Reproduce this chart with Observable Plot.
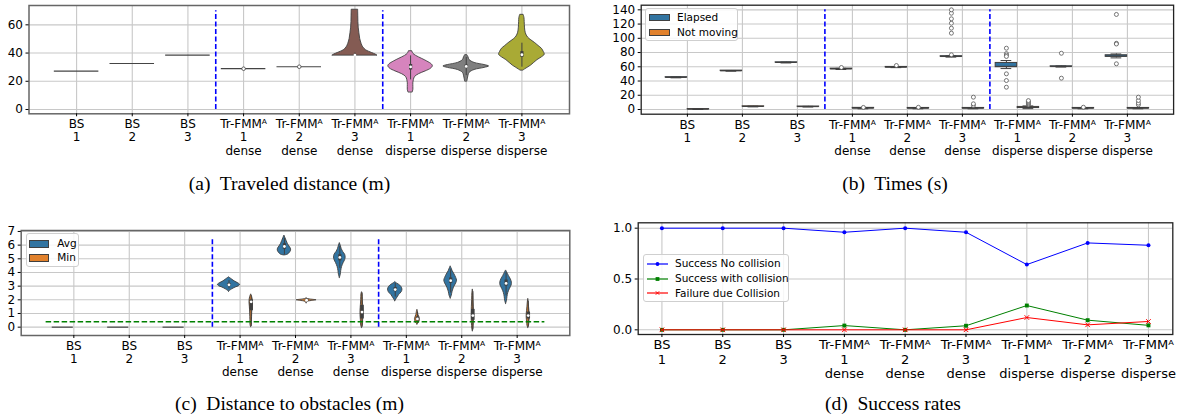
<!DOCTYPE html>
<html>
<head>
<meta charset="utf-8">
<script src="https://cdn.jsdelivr.net/npm/d3@7"></script>
<script src="https://cdn.jsdelivr.net/npm/@observablehq/plot@0.6"></script>
<style>
 html,body{margin:0;padding:0;background:#fff;}
 #fig{position:relative;width:1183px;height:419px;overflow:hidden;background:#fff;font-family:"DejaVu Sans",sans-serif;color:#000;}
 .panel{position:absolute;}
 .panel svg{display:block;overflow:visible;}
 .cap{position:absolute;font-family:"Liberation Serif","Times New Roman",serif;font-size:19.5px;line-height:1;white-space:pre;transform:translateX(-50%);}
 .leg{position:absolute;box-sizing:border-box;background:rgba(255,255,255,0.85);border:1px solid #cfcfcf;border-radius:3px;font-size:10.5px;}
 .leg .it{position:absolute;white-space:nowrap;line-height:12px;}
 .leg .pt{position:absolute;box-sizing:border-box;border:0.8px solid #3f3f3f;}
</style>
</head>
<body>
<div id="fig"></div>
<script>
// ---------- shared categories ----------
const categories = ["BS\n1","BS\n2","BS\n3",
  "Tr-FMMᴬ\n1\ndense","Tr-FMMᴬ\n2\ndense","Tr-FMMᴬ\n3\ndense",
  "Tr-FMMᴬ\n1\ndisperse","Tr-FMMᴬ\n2\ndisperse","Tr-FMMᴬ\n3\ndisperse"];
const groupDividers = [2.5, 5.5];
const captions = ["(a)  Traveled distance (m)", "(b)  Times (s)", "(c)  Distance to obstacles (m)", "(d)  Success rates"];

// ---------- (a) traveled distance ----------
const distTicks = [0, 20, 40, 60];
const distPalette = ["#3274a1","#e1812c","#3a923a","#c03d3e","#9372b2","#845b53","#d684bd","#7f7f7f","#a9aa35"];
// near-degenerate violins drawn as a single line: [category, value, hasMedianDot]
const distFlat = [[0, 27.2, false], [1, 32.6, false], [2, 38.5, false], [3, 28.9, true], [4, 30.3, true]];
// violin profiles [value, half width in category units]; box = [lo, q1, median, q3, hi]
const distViolins = [
  {i: 5, profile: [[38.3,0.40],[39,0.37],[40,0.31],[41,0.25],[42,0.20],[44,0.15],[46.5,0.12],[50,0.095],[54,0.08],[58,0.068],[62,0.062],[66,0.06],[70.7,0.058]], box: [38.3,38.4,38.6,39.0,40.0]},
  {i: 6, profile: [[12.3,0.04],[14,0.05],[16,0.05],[19,0.05],[21,0.06],[23,0.08],[25,0.15],[27,0.27],[29,0.37],[30.7,0.40],[32,0.38],[34,0.30],[36,0.20],[38,0.10],[39.5,0.05],[41.3,0.03]], box: [21,28,30.2,31.9,38]},
  {i: 7, profile: [[20.0,0.02],[22,0.03],[24,0.04],[26,0.06],[28,0.15],[29.5,0.33],[30.5,0.41],[31.5,0.33],[33,0.15],[35,0.06],[37,0.04],[38.5,0.02]], box: [24,29.5,30.5,31.5,37]},
  {i: 8, profile: [[27.7,0.03],[28.5,0.06],[29.5,0.10],[31,0.16],[33,0.22],[35,0.28],[37,0.36],[38.8,0.41],[41,0.39],[43,0.36],[45,0.30],[47,0.24],[49,0.17],[51,0.11],[54,0.07],[58,0.055],[62,0.05],[65,0.045],[67.1,0.03]], box: [30,37,38.8,41,47]}
];

// ---------- (b) times ----------
const timeTicks = [0, 20, 40, 60, 80, 100, 120, 140];
const timeSeries = ["Elapsed", "Not moving"];
// [lo, q1, median, q3, hi] per category
const elapsedStats = [
  [44.5,44.8,45.1,45.4,45.7],[53.8,54.0,54.3,54.6,54.8],[65.4,65.7,66.0,66.3,66.6],
  [56.2,56.6,57.0,57.4,57.8],[58.8,59.1,59.4,59.8,60.1],[73.6,74.0,74.4,74.9,75.4],
  [57.5,59.4,60.6,65.4,68.8],[59.6,60.0,60.3,60.7,61.2],[72.5,74.0,75.0,76.2,78.0]];
const elapsedOutliers = [[],[],[],[59],[61.8],[76.8,107.2,114.2,121.2,127.4,135.2,140],
  [86.1,78.5,76.5,74.5,50.1,40.7,31.3],[79,44],[133.5,93,92,64.2]];
const notMovingStats = [
  [0,0.2,0.4,0.6,0.8],[3.7,3.9,4.2,4.5,4.7],[3.5,3.7,4.0,4.2,4.4],
  [1.0,1.5,1.9,2.3,2.6],[1.0,1.4,1.8,2.2,2.6],[1.0,1.4,1.8,2.2,2.8],
  [1.2,2.0,2.8,3.6,5.0],[1.0,1.4,1.8,2.2,2.6],[1.0,1.4,1.8,2.2,2.8]];
const notMovingOutliers = [[],[],[],[2.9],[3.1],[5.6,8,17.3],[6.5,8,9.5,11,12.5],[3.2],[6.6,9,12.6,17.3]];

// ---------- (c) distance to obstacles ----------
const obsTicks = [0,1,2,3,4,5,6,7];
const obsSeries = ["Avg", "Min"];
const safetyThreshold = 0.4;
const avgZero = [[0, 0], [1, 0], [2, 0]];
const avgViolins = [
  {i: 3, profile: [[2.6,0],[2.75,0.05],[2.9,0.12],[3.0,0.18],[3.1,0.2],[3.2,0.17],[3.35,0.1],[3.5,0.05],[3.65,0]], box: [2.8,3.0,3.1,3.2,3.4]},
  {i: 4, profile: [[5.25,0.01],[5.3,0.06],[5.45,0.1],[5.6,0.12],[5.75,0.115],[5.9,0.09],[6.1,0.06],[6.3,0.04],[6.5,0.02],[6.7,0]], box: [5.3,5.7,5.9,6.1,6.5]},
  {i: 5, profile: [[3.6,0],[3.8,0.015],[4.1,0.025],[4.4,0.04],[4.7,0.07],[4.9,0.095],[5.1,0.105],[5.3,0.095],[5.5,0.06],[5.7,0.035],[5.9,0.02],[6.15,0]], box: [4.3,4.85,5.1,5.3,5.9]},
  {i: 6, profile: [[1.9,0],[2.1,0.03],[2.35,0.07],[2.55,0.115],[2.75,0.13],[2.95,0.11],[3.1,0.07],[3.2,0.03],[3.3,0]], box: [2.2,2.6,2.75,2.9,3.2]},
  {i: 7, profile: [[2.1,0],[2.3,0.02],[2.6,0.035],[2.9,0.06],[3.2,0.1],[3.4,0.115],[3.6,0.1],[3.85,0.07],[4.1,0.035],[4.3,0.015],[4.45,0]], box: [2.5,3.2,3.4,3.6,4.2]},
  {i: 8, profile: [[1.7,0],[1.9,0.015],[2.2,0.025],[2.5,0.04],[2.8,0.07],[3.05,0.1],[3.25,0.105],[3.5,0.085],[3.75,0.05],[4.0,0.02],[4.15,0]], box: [2.3,3.0,3.2,3.45,4.0]}
];
const minViolins = [
  {i: 3, profile: [[0.02,0],[0.1,0.01],[0.5,0.014],[1.0,0.018],[1.5,0.024],[1.8,0.03],[2.0,0.028],[2.2,0.018],[2.4,0]], box: [0.05,1.2,1.85,2.0,2.3]},
  {i: 4, profile: [[1.75,0],[1.85,0.02],[1.93,0.12],[1.97,0.18],[2.0,0.12],[2.05,0.03],[2.12,0]], box: [1.8,1.9,1.97,2.05,2.1]},
  {i: 5, profile: [[-0.05,0],[0.1,0.014],[0.5,0.02],[0.9,0.027],[1.2,0.027],[1.6,0.02],[2.0,0.014],[2.4,0.01],[2.56,0]], box: [0,0.6,1.1,1.6,2.5]},
  {i: 6, profile: [[0.2,0],[0.3,0.025],[0.45,0.04],[0.6,0.044],[0.75,0.032],[0.9,0.018],[1.1,0.01],[1.27,0]], box: [0.25,0.45,0.6,0.75,1.1]},
  {i: 7, profile: [[-0.3,0],[-0.1,0.01],[0.3,0.017],[0.7,0.021],[1.0,0.021],[1.5,0.017],[2.0,0.012],[2.5,0.008],[2.76,0]], box: [-0.2,0.5,0.85,1.3,2.6]},
  {i: 8, profile: [[-0.05,0],[0.1,0.014],[0.4,0.021],[0.7,0.028],[0.9,0.028],[1.2,0.021],[1.5,0.014],[1.8,0.008],[2.07,0]], box: [0,0.6,0.85,1.1,1.9]}
];

// ---------- (d) success rates ----------
const rateTicks = [0, 0.5, 1.0];
const rateSeries = ["Success No collision", "Success with collision", "Failure due Collision"];
const successNoCollision   = [1, 1, 1, 0.96, 1, 0.96, 0.642, 0.855, 0.832];
const successWithCollision = [0, 0, 0, 0.042, 0, 0.04, 0.239, 0.095, 0.044];
const failureCollision     = [0, 0, 0, 0, 0, 0, 0.121, 0.049, 0.082];

// ================= drawing =================
const catIdx = categories.map((_, i) => i);
const EDGE = "#3f3f3f";
const GRID = "#c8c8c8";
const fig = document.getElementById("fig");

function place(el, left, top) {
  const d = document.createElement("div");
  d.className = "panel"; d.style.left = left + "px"; d.style.top = top + "px";
  d.appendChild(el); fig.appendChild(d);
}
function violin(v, x, color, boxW = 3.2) {
  const marks = [Plot.areaX(v.profile, {y: d => d[0], x1: d => x - d[1], x2: d => x + d[1],
    fill: color, stroke: EDGE, strokeWidth: 0.9, curve: "catmull-rom"})];
  if (v.box) {
    marks.push(Plot.ruleX([v], {x: () => x, y1: d => d.box[0], y2: d => d.box[4], stroke: EDGE, strokeWidth: 1}));
    marks.push(Plot.ruleX([v], {x: () => x, y1: d => d.box[1], y2: d => d.box[3], stroke: EDGE, strokeWidth: boxW}));
    marks.push(Plot.dot([v], {x: () => x, y: d => d.box[2], r: 1.4, fill: "#fff", stroke: "none"}));
  }
  return marks;
}
function grids(yt) {
  return [
    Plot.gridX(catIdx, {stroke: GRID, strokeOpacity: 1, strokeWidth: 1.1}),
    Plot.gridY(yt, {stroke: GRID, strokeOpacity: 1, strokeWidth: 1.1})
  ];
}
function axes(yt, fs, lh, yfmt) {
  return [
    Plot.axisX(catIdx, {tickFormat: i => categories[i], tickSize: 3, tickPadding: 2, fontSize: fs, lineHeight: lh, label: null}),
    Plot.axisY(yt, {tickSize: 3, tickPadding: 3, fontSize: 12, label: null, tickFormat: yfmt})
  ];
}
const baseStyle = {fontFamily: "DejaVu Sans", color: "#000", background: "transparent", overflow: "visible"};

// ---- (a)
const distRows = distFlat.map(([i, v, dot]) => ({i, v, dot}));
const plotA = Plot.plot({
  width: 590, height: 165, marginLeft: 28.5, marginRight: 21, marginTop: 5, marginBottom: 51.7,
  x: {type: "linear", domain: [-0.855, 8.855]},
  y: {domain: [-3.05, 73.7]},
  style: baseStyle,
  marks: [
    ...grids(distTicks),
    Plot.ruleY(distRows, {y: "v", x1: d => d.i - 0.4, x2: d => d.i + 0.4, stroke: "#444", strokeWidth: 1.2}),
    Plot.dot(distRows.filter(d => d.dot), {x: "i", y: "v", r: 1.8, fill: "#fff", stroke: "#444", strokeWidth: 0.8}),
    ...distViolins.flatMap(v => violin(v, v.i, distPalette[v.i])),
    Plot.ruleX(groupDividers, {y1: 0, y2: 70, stroke: "#0000ff", strokeWidth: 1.6, strokeDasharray: "5,2.5"}),
    Plot.frame({stroke: "#666", strokeWidth: 1.5}),
    ...axes(distTicks, 12, 1.1)
  ]
});
place(plotA, 0, 0);

// ---- (b)
function boxMarks(stats, outliers, off, color) {
  const rows = stats.map((s, i) => ({x: i + off, lo: s[0], q1: s[1], md: s[2], q3: s[3], hi: s[4]}));
  const out = outliers.flatMap((arr, i) => arr.map(v => ({x: i + off, v})));
  const hw = 0.195;
  return [
    Plot.ruleX(rows, {x: "x", y1: "lo", y2: "q1", stroke: EDGE, strokeWidth: 1}),
    Plot.ruleX(rows, {x: "x", y1: "q3", y2: "hi", stroke: EDGE, strokeWidth: 1}),
    Plot.ruleY(rows, {y: "lo", x1: d => d.x - hw / 2, x2: d => d.x + hw / 2, stroke: EDGE, strokeWidth: 1}),
    Plot.ruleY(rows, {y: "hi", x1: d => d.x - hw / 2, x2: d => d.x + hw / 2, stroke: EDGE, strokeWidth: 1}),
    Plot.rect(rows, {x1: d => d.x - hw, x2: d => d.x + hw, y1: "q1", y2: "q3", fill: color, stroke: EDGE, strokeWidth: 1}),
    Plot.ruleY(rows, {y: "md", x1: d => d.x - hw, x2: d => d.x + hw, stroke: EDGE, strokeWidth: 1}),
    Plot.dot(out, {x: "x", y: "v", r: 2, stroke: "#555", fill: "#fff", strokeWidth: 0.8})
  ];
}
const timeColors = ["#3274a1", "#e1812c"];
const plotB = Plot.plot({
  width: 593, height: 165, marginLeft: 50.7, marginRight: 9.9, marginTop: 4.7, marginBottom: 51.3,
  x: {type: "linear", domain: [-0.84, 8.84]},
  y: {domain: [-6.6, 146.5]},
  style: baseStyle,
  marks: [
    ...grids(timeTicks),
    ...boxMarks(elapsedStats, elapsedOutliers, -0.2, timeColors[0]),
    ...boxMarks(notMovingStats, notMovingOutliers, 0.2, timeColors[1]),
    Plot.ruleX(groupDividers, {y1: 0, y2: 140, stroke: "#0000ff", strokeWidth: 1.6, strokeDasharray: "5,2.5"}),
    Plot.frame({stroke: "#222", strokeWidth: 1.3}),
    ...axes(timeTicks, 12, 1.1)
  ]
});
place(plotB, 590, 0);

// ---- (c)
const obsColors = ["#3274a1", "#e1812c"];
const avgZeroRows = avgZero.map(([i, v]) => ({i, v}));
const plotC = Plot.plot({
  width: 590, height: 165, marginLeft: 20.7, marginRight: 20.7, marginTop: 10, marginBottom: 50,
  x: {type: "linear", domain: [-0.95, 8.95]},
  y: {domain: [-0.61, 7.07]},
  style: baseStyle,
  marks: [
    ...grids(obsTicks),
    Plot.ruleY(avgZeroRows, {y: "v", x1: d => d.i - 0.39, x2: d => d.i - 0.01, stroke: "#444", strokeWidth: 1.2}),
    ...avgViolins.flatMap(v => violin(v, v.i - 0.2, obsColors[0])),
    ...minViolins.flatMap(v => violin(v, v.i + 0.2, obsColors[1], 3.6)),
    Plot.ruleY([safetyThreshold], {x1: -0.5, x2: 8.5, stroke: "#008000", strokeWidth: 1.5, strokeDasharray: "5.5,2.5"}),
    Plot.ruleX(groupDividers, {y1: 0, y2: 6.5, stroke: "#0000ff", strokeWidth: 1.6, strokeDasharray: "5,2.5"}),
    Plot.frame({stroke: "#666", strokeWidth: 1.5}),
    ...axes(obsTicks, 12, 1.1)
  ]
});
place(plotC, 0, 220);

// ---- (d)
const rateStyle = [
  {values: successNoCollision, color: "#0000ff", symbol: "circle"},
  {values: successWithCollision, color: "#008000", symbol: "square"},
  {values: failureCollision, color: "#ff0000", symbol: "times"}
];
const plotD = Plot.plot({
  width: 593, height: 170, marginLeft: 47.7, marginRight: 10.7, marginTop: 7.3, marginBottom: 51,
  x: {type: "linear", domain: [-0.39, 8.4]},
  y: {domain: [-0.046, 1.053]},
  style: baseStyle,
  marks: [
    ...grids(rateTicks),
    ...rateStyle.flatMap(s => {
      const rows = s.values.map((v, i) => ({i, v}));
      return [
        Plot.line(rows, {x: "i", y: "v", stroke: s.color, strokeWidth: 1}),
        s.symbol === "times"
          ? Plot.dot(rows, {x: "i", y: "v", symbol: "times", r: 2.2, stroke: s.color, strokeWidth: 1})
          : Plot.dot(rows, {x: "i", y: "v", symbol: s.symbol, r: s.symbol === "square" ? 2.2 : 2, fill: s.color, stroke: "none"})
      ];
    }),
    Plot.frame({stroke: "#222", strokeWidth: 1.3}),
    ...axes(rateTicks, 13, 1.08, d3.format(".1f"))
  ]
});
place(plotD, 590, 215);

// ---- captions
[[289.5, 173.7], [895, 173.7], [289.5, 393.7], [893, 393.7]].forEach(([x, y], k) => {
  const c = document.createElement("div");
  c.className = "cap"; c.style.left = x + "px"; c.style.top = y + "px";
  c.textContent = captions[k];
  fig.appendChild(c);
});

// ---- legends
function legend(left, top, w, h, items) {
  const b = document.createElement("div");
  b.className = "leg";
  Object.assign(b.style, {left: left + "px", top: top + "px", width: w + "px", height: h + "px"});
  items.forEach(it => {
    if (it.patch) {
      const p = document.createElement("div");
      p.className = "pt";
      Object.assign(p.style, {left: it.px + "px", top: (it.cy - it.ph / 2) + "px", width: it.pw + "px", height: it.ph + "px", background: it.color});
      b.appendChild(p);
    } else {
      const ns = "http://www.w3.org/2000/svg";
      const s = document.createElementNS(ns, "svg");
      s.setAttribute("width", 22); s.setAttribute("height", 8);
      s.style.position = "absolute"; s.style.left = it.px + "px"; s.style.top = (it.cy - 4) + "px";
      const l = document.createElementNS(ns, "line");
      Object.entries({x1: 0, x2: 21, y1: 4, y2: 4, stroke: it.color, "stroke-width": 1.2}).forEach(([k, v]) => l.setAttribute(k, v));
      s.appendChild(l);
      let m;
      if (it.symbol === "circle") { m = document.createElementNS(ns, "circle"); Object.entries({cx: 10.5, cy: 4, r: 1.9, fill: it.color}).forEach(([k, v]) => m.setAttribute(k, v)); }
      else if (it.symbol === "square") { m = document.createElementNS(ns, "rect"); Object.entries({x: 8.6, y: 2.1, width: 3.8, height: 3.8, fill: it.color}).forEach(([k, v]) => m.setAttribute(k, v)); }
      else { m = document.createElementNS(ns, "path"); Object.entries({d: "M8.8,2.3L12.2,5.7M12.2,2.3L8.8,5.7", stroke: it.color, "stroke-width": 1}).forEach(([k, v]) => m.setAttribute(k, v)); }
      s.appendChild(m);
      b.appendChild(s);
    }
    const t = document.createElement("div");
    t.className = "it"; t.style.left = it.tx + "px"; t.style.top = (it.cy - 6.5) + "px";
    t.textContent = it.label;
    b.appendChild(t);
  });
  fig.appendChild(b);
}
legend(645, 8.3, 93.3, 32.4, timeSeries.map((label, k) => ({patch: true, label, color: timeColors[k], px: 3.3, pw: 20.7, ph: 6.7, cy: 8.3 + 15 * k, tx: 31})));
legend(26, 233.3, 53.3, 33.4, obsSeries.map((label, k) => ({patch: true, label, color: obsColors[k], px: 2.3, pw: 20, ph: 7.4, cy: 9.7 + 14 * k, tx: 30.3})));
legend(642.7, 254.3, 146, 48, rateSeries.map((label, k) => ({patch: false, label, color: rateStyle[k].color, symbol: rateStyle[k].symbol, px: 3, cy: 8.5 + 14.8 * k, tx: 31.3})));
</script>
</body>
</html>
